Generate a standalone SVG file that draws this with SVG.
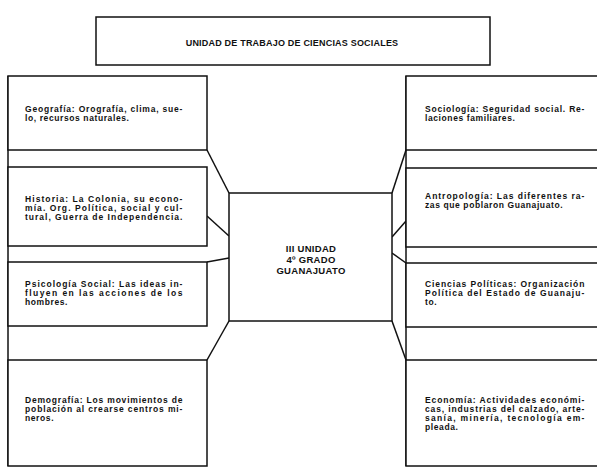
<svg xmlns="http://www.w3.org/2000/svg" width="597" height="468" viewBox="0 0 597 468">
  <style>
    .box { fill: #ffffff; stroke: #111111; stroke-width: 1.5; }
    .ln { fill: none; stroke: #111111; stroke-width: 1.5; stroke-linejoin: round; }
    text { font-family: "Liberation Sans", Arial, sans-serif; font-weight: bold; fill: #111111; }
    .t { font-size: 8.5px; letter-spacing: 0.6px; }
    .h { font-size: 9px; letter-spacing: 0.2px; text-anchor: middle; }
    .c { font-size: 9.5px; letter-spacing: 0.3px; text-anchor: middle; }
  </style>
  <rect width="597" height="468" fill="#ffffff"/>

  <!-- title -->
  <g id="titulo">
    <rect class="box" x="96" y="17" width="394" height="48"/>
    <text class="h" x="292" y="46">UNIDAD DE TRABAJO DE CIENCIAS SOCIALES</text>
  </g>

  <!-- connectors between the centre box and the side columns -->
  <g id="conectores">
    <line class="ln" x1="8" y1="76" x2="8" y2="466"/>
    <line class="ln" x1="406" y1="76" x2="406" y2="466"/>
    <polyline class="ln" points="207,150 229,193"/>
    <polyline class="ln" points="207,216 229,236"/>
    <polyline class="ln" points="207,262 229,258"/>
    <polyline class="ln" points="207,360 229,321"/>
    <polyline class="ln" points="406,150 392,193"/>
    <polyline class="ln" points="406,221 392,237"/>
    <polyline class="ln" points="392,253 406,263"/>
    <polyline class="ln" points="392,321 406,360"/>
  </g>

  <!-- centre node -->
  <g id="centro">
    <rect class="box" x="229" y="193" width="163" height="128"/>
    <text class="c" x="311" y="252">III UNIDAD</text>
    <text class="c" x="311" y="263">4º GRADO</text>
    <text class="c" x="311" y="274">GUANAJUATO</text>
  </g>

  <!-- left column -->
  <g id="geografia">
    <rect class="box" x="8" y="76" width="199" height="74"/>
    <text class="t" x="25" y="111.5" textLength="158" lengthAdjust="spacing">Geografía: Orografía, clima, sue-</text>
    <text class="t" x="25" y="120.5">lo, recursos naturales.</text>
  </g>
  <g id="historia">
    <rect class="box" x="8" y="167" width="199" height="79"/>
    <text class="t" x="25" y="201.5" textLength="158" lengthAdjust="spacing">Historia: La Colonia, su econo-</text>
    <text class="t" x="25" y="210.5" textLength="158" lengthAdjust="spacing">mía. Org. Política, social y cul-</text>
    <text class="t" x="25" y="219.5" textLength="158" lengthAdjust="spacing">tural, Guerra de Independencia.</text>
  </g>
  <g id="psicologia">
    <rect class="box" x="8" y="262" width="199" height="64"/>
    <text class="t" x="25" y="286.5" textLength="158" lengthAdjust="spacing">Psicología Social: Las ideas in-</text>
    <text class="t" x="25" y="295.5" textLength="158" lengthAdjust="spacing">fluyen en las acciones de los</text>
    <text class="t" x="25" y="304.5">hombres.</text>
  </g>
  <g id="demografia">
    <rect class="box" x="8" y="360" width="199" height="106"/>
    <text class="t" x="25" y="402.5" textLength="158" lengthAdjust="spacing">Demografía: Los movimientos de</text>
    <text class="t" x="25" y="411.5" textLength="158" lengthAdjust="spacing">población al crearse centros mi-</text>
    <text class="t" x="25" y="420.5">neros.</text>
  </g>

  <!-- right column -->
  <g id="sociologia">
    <rect class="box" x="406" y="76" width="200" height="74"/>
    <text class="t" x="425" y="111.5" textLength="160" lengthAdjust="spacing">Sociología: Seguridad social. Re-</text>
    <text class="t" x="425" y="120.5">laciones familiares.</text>
  </g>
  <g id="antropologia">
    <rect class="box" x="406" y="168" width="200" height="79"/>
    <text class="t" x="425" y="198.5" textLength="160" lengthAdjust="spacing">Antropología: Las diferentes ra-</text>
    <text class="t" x="425" y="207.5">zas que poblaron Guanajuato.</text>
  </g>
  <g id="ciencias-politicas">
    <rect class="box" x="406" y="263" width="200" height="64"/>
    <text class="t" x="425" y="286.5" textLength="160" lengthAdjust="spacing">Ciencias Políticas: Organización</text>
    <text class="t" x="425" y="295.5" textLength="160" lengthAdjust="spacing">Política del Estado de Guanaju-</text>
    <text class="t" x="425" y="304.5">to.</text>
  </g>
  <g id="economia">
    <rect class="box" x="406" y="360" width="200" height="106"/>
    <text class="t" x="425" y="402.5" textLength="160" lengthAdjust="spacing">Economía: Actividades económi-</text>
    <text class="t" x="425" y="411.5" textLength="160" lengthAdjust="spacing">cas, industrias del calzado, arte-</text>
    <text class="t" x="425" y="420.5" textLength="160" lengthAdjust="spacing">sanía, minería, tecnología em-</text>
    <text class="t" x="425" y="429.5">pleada.</text>
  </g>
</svg>
